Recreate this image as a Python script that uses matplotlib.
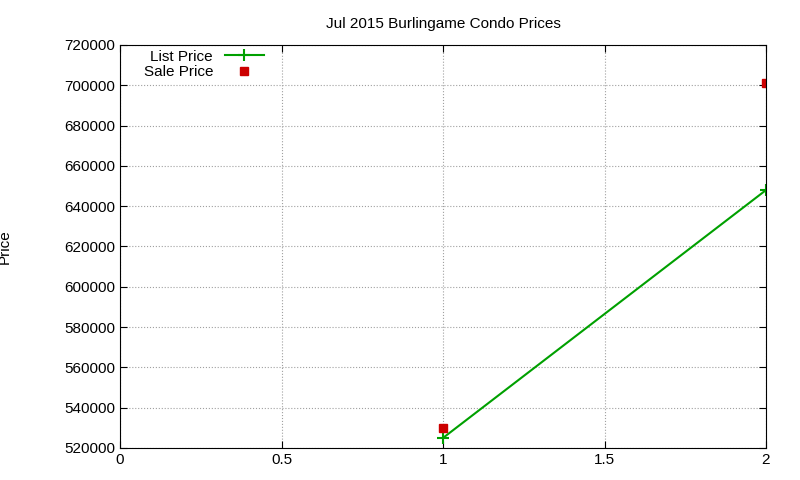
import matplotlib
matplotlib.use("Agg")
import matplotlib.pyplot as plt

x = [1, 2]
list_price = [525000, 648000]
sale_price = [530000, 701000]
xticks = [0, 0.5, 1, 1.5, 2]
yticks = list(range(520000, 720001, 20000))

plt.rcParams['font.family'] = ['Liberation Sans', 'DejaVu Sans']
fig = plt.figure(figsize=(8, 4.8), dpi=100)
ax = fig.add_axes([120/800, 1-448/480, (766-120)/800, (448-45)/480])
ax.plot(x, list_price, color='#00a000', marker='+', markersize=8, mew=1.5, lw=1.5, label='List Price')
ax.plot(x, sale_price, color='#cc0000', marker='s', markersize=6, ls='none', label='Sale Price')
ax.set_xlim(0, 2)
ax.set_ylim(520000, 720000)
ax.set_xticks(xticks)
ax.set_xticklabels(['0', '0.5', '1', '1.5', '2'])
ax.set_yticks(yticks)
ax.set_yticklabels([str(v) for v in yticks])
ax.tick_params(direction='in', labelsize=11, top=True, right=True, length=5)
ax.grid(True, color='#a0a0a0', ls=':', lw=0.8)
ax.set_title('Jul 2015 Burlingame Condo Prices', fontsize=11, pad=12)
ax.set_ylabel('Price', fontsize=11)
ax.yaxis.set_label_coords(-108/646, 0.5)
ax.legend(loc='upper left', bbox_to_anchor=(0.02, 1.015), frameon=False, markerfirst=False,
          fontsize=11, handlelength=2.5, borderpad=0.2, labelspacing=0.1)
fig.savefig('out.png', dpi=100)
